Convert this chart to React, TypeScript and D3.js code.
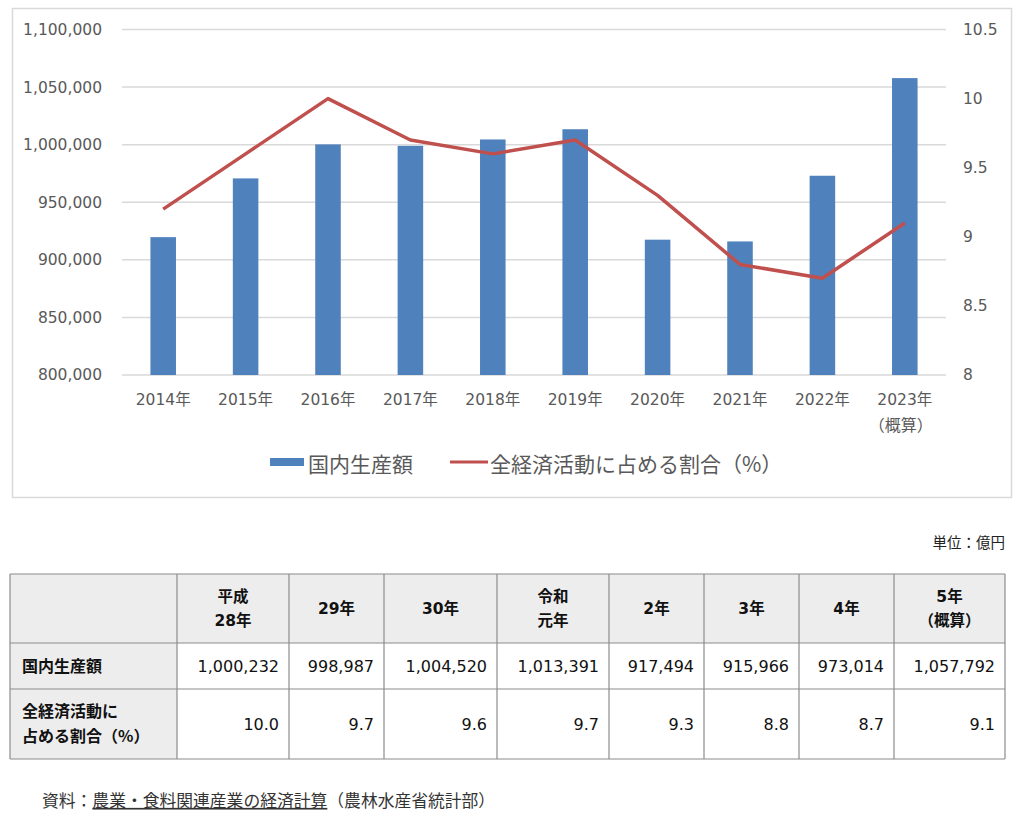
import * as d3 from 'd3';

// chart data
const years = ['2014年', '2015年', '2016年', '2017年', '2018年', '2019年', '2020年', '2021年', '2022年', '2023年'];
const yearNotes = ['', '', '', '', '', '', '', '', '', '（概算）'];
const production = [919700, 970700, 1000232, 998987, 1004520, 1013391, 917494, 915966, 973014, 1057792];
const ratio = [9.2, 9.6, 10.0, 9.7, 9.6, 9.7, 9.3, 8.8, 8.7, 9.1];
const leftTicks = [800000, 850000, 900000, 950000, 1000000, 1050000, 1100000];
const rightTicks = [8, 8.5, 9, 9.5, 10, 10.5];

// table data
const tableHeaders = [['平成', '28年'], ['29年'], ['30年'], ['令和', '元年'], ['2年'], ['3年'], ['4年'], ['5年', '（概算）']];
const rowLabels = [['国内生産額'], ['全経済活動に', '占める割合（%）']];
const legendLabels = ['国内生産額', '全経済活動に占める割合（%）'];

const FONT = '"DejaVu Sans", "Noto Sans CJK JP", sans-serif';
const CJK = '"Noto Sans CJK JP", "DejaVu Sans", sans-serif';
const BLUE = '#4F81BD';
const RED = '#C0504D';
const GRID = '#D9D9D9';
const AXIS_TEXT = '#595959';

const App = () => {
  const x = d3.scaleBand<string>().domain(years).range([122, 946]);
  const yLeft = d3.scaleLinear().domain([800000, 1100000]).range([375, 29.5]);
  const yRight = d3.scaleLinear().domain([8, 10.5]).range([375, 29.5]);
  const barW = x.bandwidth() * 0.31;
  const cx = (i: number) => (x(years[i]) as number) + x.bandwidth() / 2;

  const line = d3
    .line<number>()
    .x((_, i) => cx(i))
    .y(d => yRight(d));

  const fmtInt = d3.format(',');
  const fmtRatio = d3.format('.1f');

  // table layout
  const colWidths = [167, 112, 95, 113, 112, 95, 95, 95, 111];
  const colEdges = colWidths.reduce((acc, w) => [...acc, acc[acc.length - 1] + w], [10]);
  const rowEdges = [574, 643, 689, 759];
  const tableValues = [
    production.slice(2).map(fmtInt),
    ratio.slice(2).map(fmtRatio),
  ];

  return (
    <svg
      width={1024}
      height={820}
      style={{ position: 'absolute', left: 0, top: 0, fontFamily: FONT }}
    >
      <rect x={0} y={0} width={1024} height={820} fill="#fff" />
      {/* chart frame */}
      <rect x={12.5} y={8.5} width={999} height={489} fill="none" stroke={GRID} strokeWidth={1.5} />

      {/* gridlines */}
      {leftTicks.map(t => (
        <line key={t} x1={122} x2={946} y1={yLeft(t)} y2={yLeft(t)} stroke={GRID} strokeWidth={1.5} />
      ))}

      {/* left axis labels */}
      {leftTicks.map(t => (
        <text key={t} x={102} y={yLeft(t)} dy="0.35em" textAnchor="end" fontSize={15.5} fill={AXIS_TEXT}>
          {fmtInt(t)}
        </text>
      ))}

      {/* right axis labels */}
      {rightTicks.map(t => (
        <text key={t} x={963} y={yRight(t)} dy="0.35em" textAnchor="start" fontSize={15.5} fill={AXIS_TEXT}>
          {t}
        </text>
      ))}

      {/* bars */}
      {production.map((v, i) => (
        <rect key={i} x={cx(i) - barW / 2} y={yLeft(v)} width={barW} height={yLeft(800000) - yLeft(v)} fill={BLUE} />
      ))}

      {/* ratio line */}
      <path d={line(ratio) as string} fill="none" stroke={RED} strokeWidth={3.5} strokeLinejoin="round" />

      {/* x labels */}
      {years.map((y, i) => (
        <g key={y}>
          <text x={cx(i)} y={400} dy="0.35em" textAnchor="middle" fontSize={15.5} fill={AXIS_TEXT}>{y}</text>
          {yearNotes[i] && (
            <text x={cx(i) - 4} y={425} dy="0.35em" textAnchor="middle" fontSize={16} fontFamily={CJK} fill={AXIS_TEXT}>{yearNotes[i]}</text>
          )}
        </g>
      ))}

      {/* legend */}
      <rect x={270} y={458} width={34} height={8} fill={BLUE} />
      <text x={308} y={465} dy="0.35em" fontSize={21} fontFamily={CJK} fill={AXIS_TEXT}>{legendLabels[0]}</text>
      <line x1={450} x2={488} y1={462} y2={462} stroke={RED} strokeWidth={3} />
      <text x={490} y={465} dy="0.35em" fontSize={21} fontFamily={CJK} fill={AXIS_TEXT}>{legendLabels[1]}</text>

      {/* unit */}
      <text x={1005} y={543} dy="0.35em" textAnchor="end" fontSize={14.5} fontFamily={CJK} fill="#222">単位：億円</text>

      {/* table backgrounds */}
      <rect x={colEdges[0]} y={rowEdges[0]} width={colEdges[9] - colEdges[0]} height={rowEdges[1] - rowEdges[0]} fill="#EDEDED" />
      <rect x={colEdges[0]} y={rowEdges[1]} width={colWidths[0]} height={rowEdges[3] - rowEdges[1]} fill="#EDEDED" />

      {/* table grid */}
      {rowEdges.map(r => (
        <line key={r} x1={colEdges[0]} x2={colEdges[9]} y1={r} y2={r} stroke="#8C8C8C" strokeWidth={1.2} />
      ))}
      {colEdges.map(c => (
        <line key={c} x1={c} x2={c} y1={rowEdges[0]} y2={rowEdges[3]} stroke="#8C8C8C" strokeWidth={1.2} />
      ))}

      {/* header */}
      {tableHeaders.map((lines, j) => {
        const mx = (colEdges[j + 1] + colEdges[j + 2]) / 2;
        const my = (rowEdges[0] + rowEdges[1]) / 2;
        return lines.map((t, k) => (
          <text
            key={`${j}-${k}`}
            x={mx}
            y={my + (k - (lines.length - 1) / 2) * 24}
            dy="0.35em"
            textAnchor="middle"
            fontSize={15.5}
            fontWeight="bold"
            fill="#111"
          >
            {t}
          </text>
        ));
      })}

      {/* row labels */}
      {rowLabels.map((lines, r) => {
        const my = (rowEdges[r + 1] + rowEdges[r + 2]) / 2;
        return lines.map((t, k) => (
          <text
            key={`${r}-${k}`}
            x={22}
            y={my + (k - (lines.length - 1) / 2) * 25}
            dy="0.35em"
            fontSize={16}
            fontWeight="bold"
            fontFamily={CJK}
            fill="#111"
          >
            {t}
          </text>
        ));
      })}

      {/* values */}
      {tableValues.map((row, r) =>
        row.map((v, j) => (
          <text
            key={`${r}-${j}`}
            x={colEdges[j + 2] - 10}
            y={(rowEdges[r + 1] + rowEdges[r + 2]) / 2}
            dy="0.35em"
            textAnchor="end"
            fontSize={16}
            fill="#111"
          >
            {v}
          </text>
        ))
      )}

      {/* source */}
      <text x={42} y={801} dy="0.35em" fontSize={16.8} fontFamily={CJK} fill="#333">
        <tspan>資料：</tspan>
        <tspan textDecoration="underline">農業・食料関連産業の経済計算</tspan>
        <tspan>（農林水産省統計部）</tspan>
      </text>
    </svg>
  );
};

export default App;
